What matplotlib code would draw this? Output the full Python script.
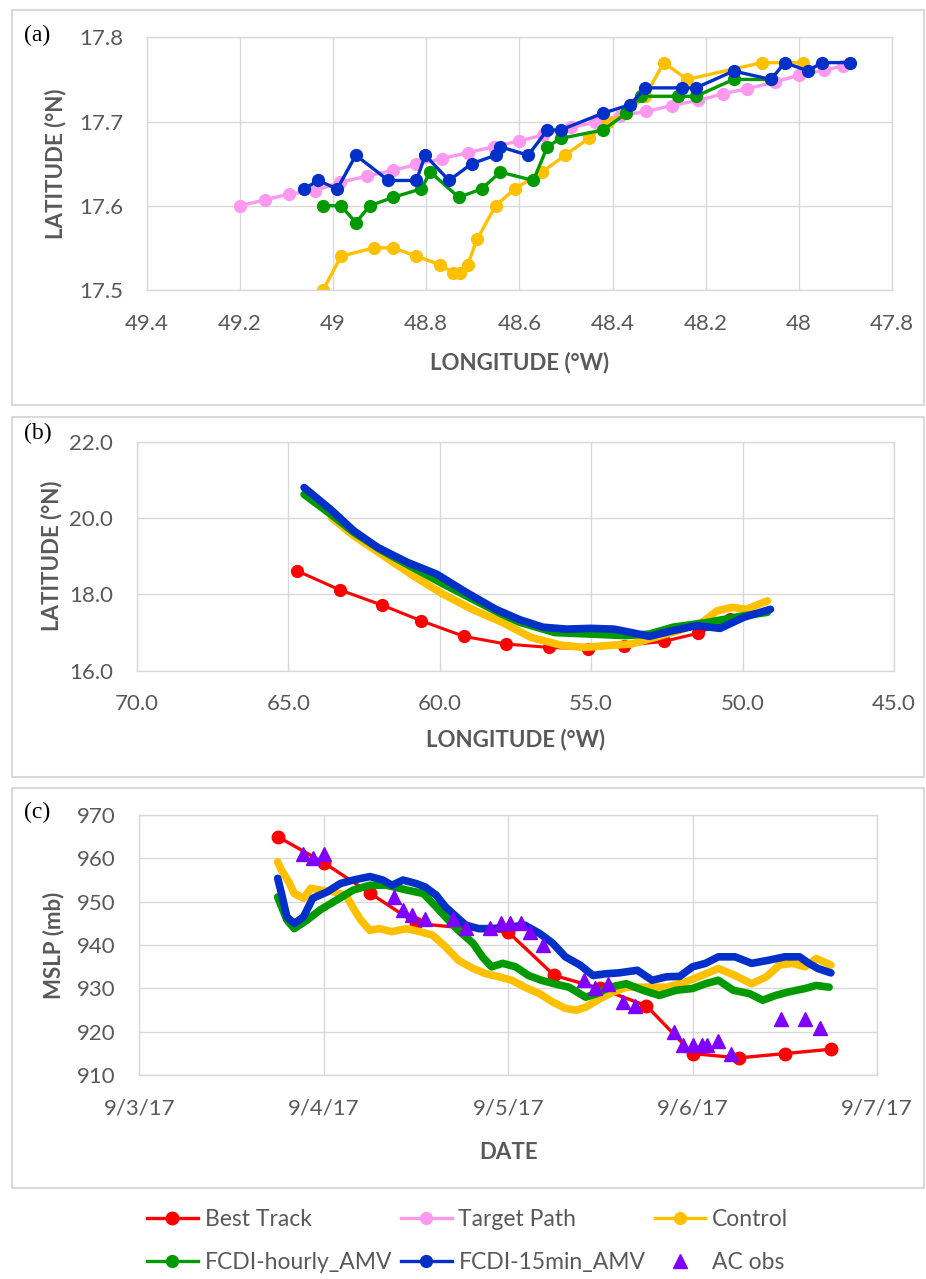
import matplotlib
matplotlib.use("Agg")
import matplotlib.pyplot as plt
from matplotlib.patches import Rectangle

plt.rcParams["font.family"] = ["Lato", "DejaVu Sans"]

# ---- panel (a): zoomed track, longitude (W) / latitude (N)
tp_lon = [49.200, 49.146, 49.094, 49.038, 48.984, 48.928, 48.872, 48.821, 48.766, 48.711, 48.655, 48.600, 48.549,
          48.489, 48.438, 48.383, 48.328, 48.272, 48.217, 48.162, 48.111, 48.051, 48.000, 47.945, 47.906]
tp_lat = [17.600, 17.607, 17.614, 17.618, 17.628, 17.635, 17.642, 17.649, 17.656, 17.663, 17.670, 17.677, 17.684,
          17.693, 17.699, 17.707, 17.712, 17.719, 17.725, 17.733, 17.739, 17.747, 17.755, 17.761, 17.766]

ctl_lon = [49.021, 48.983, 48.912, 48.871, 48.821, 48.770, 48.742, 48.728, 48.711, 48.691, 48.651, 48.610, 48.551,
           48.502, 48.451, 48.410, 48.370, 48.330, 48.290, 48.240, 48.079, 47.992]
ctl_lat = [17.50, 17.54, 17.55, 17.55, 17.54, 17.53, 17.52, 17.52, 17.53, 17.56, 17.60, 17.62, 17.64,
           17.66, 17.68, 17.70, 17.71, 17.73, 17.77, 17.75, 17.77, 17.77]

fh_lon = [49.021, 48.983, 48.951, 48.921, 48.871, 48.811, 48.791, 48.730, 48.681, 48.641, 48.570, 48.540, 48.511,
          48.420, 48.370, 48.339, 48.260, 48.221, 48.140, 48.060]
fh_lat = [17.60, 17.60, 17.58, 17.60, 17.61, 17.62, 17.64, 17.61, 17.62, 17.64, 17.63, 17.67, 17.68,
          17.69, 17.71, 17.73, 17.73, 17.73, 17.75, 17.75]

fb_lon = [49.062, 49.032, 48.991, 48.951, 48.881, 48.821, 48.802, 48.751, 48.702, 48.651, 48.641, 48.581, 48.540,
          48.511, 48.420, 48.362, 48.330, 48.251, 48.221, 48.140, 48.060, 48.030, 47.980, 47.951, 47.891]
fb_lat = [17.62, 17.63, 17.62, 17.66, 17.63, 17.63, 17.66, 17.63, 17.65, 17.66, 17.67, 17.66, 17.69,
          17.69, 17.71, 17.72, 17.74, 17.74, 17.74, 17.76, 17.75, 17.77, 17.76, 17.77, 17.77]

a_xticks = [49.4, 49.2, 49.0, 48.8, 48.6, 48.4, 48.2, 48.0, 47.8]
a_xlabels = ["49.4", "49.2", "49", "48.8", "48.6", "48.4", "48.2", "48", "47.8"]
a_yticks = [17.5, 17.6, 17.7, 17.8]

# ---- panel (b): full track
bt_lon_b = [64.72, 63.31, 61.91, 60.62, 59.20, 57.82, 56.39, 55.09, 53.92, 52.59, 51.48, 50.41]
bt_lat_b = [18.62, 18.12, 17.72, 17.31, 16.90, 16.70, 16.61, 16.57, 16.66, 16.77, 16.98, 17.35]

ctl_lon_b = [63.57, 62.83, 61.85, 60.88, 59.90, 58.93, 57.95, 56.98, 56.00, 55.22, 54.44, 53.67, 53.08, 52.11,
             51.33, 50.84, 50.35, 49.87, 49.18]
ctl_lat_b = [20.01, 19.53, 19.01, 18.49, 18.01, 17.61, 17.27, 16.87, 16.67, 16.61, 16.66, 16.70, 16.83, 17.05,
             17.27, 17.57, 17.66, 17.61, 17.83]

fh_lon_b = [64.48, 63.60, 62.83, 61.85, 60.88, 59.90, 58.93, 58.00, 57.37, 56.20, 55.03, 53.86, 53.08, 52.30,
            51.13, 49.96, 49.18]
fh_lat_b = [20.62, 20.10, 19.62, 19.12, 18.70, 18.28, 17.88, 17.50, 17.27, 17.00, 16.96, 16.92, 16.96, 17.14,
            17.27, 17.44, 17.53]

fb_lon_b = [64.48, 63.61, 62.83, 62.05, 61.07, 60.10, 59.12, 58.15, 57.37, 56.59, 55.81, 55.03, 54.25, 53.67,
            53.08, 52.30, 51.52, 50.74, 49.96, 49.08]
fb_lat_b = [20.80, 20.23, 19.66, 19.23, 18.84, 18.53, 18.05, 17.61, 17.34, 17.14, 17.09, 17.11, 17.09, 17.00,
            16.90, 17.05, 17.18, 17.11, 17.40, 17.61]

b_xticks = [70, 65, 60, 55, 50, 45]
b_yticks = [16, 18, 20, 22]

# ---- panel (c): MSLP, time in days since 9/3/17 00Z
bt_t = [0.75, 1.0, 1.25, 1.5, 1.75, 2.0, 2.25, 2.5, 2.75, 3.0, 3.25, 3.5, 3.75]
bt_p = [965, 959, 952, 945, 944, 943, 933, 930, 926, 915, 914, 915, 916]

ac_t = [0.89, 0.94, 1.00, 1.38, 1.43, 1.48, 1.55, 1.70, 1.77, 1.90, 1.96, 2.01, 2.07, 2.12, 2.19,
        2.41, 2.47, 2.54, 2.62, 2.69, 2.90, 2.95, 3.00, 3.05, 3.08, 3.14, 3.21, 3.48, 3.61, 3.69]
ac_p = [961, 960, 961, 951, 948, 947, 946, 946, 944, 944, 945, 945, 945, 943, 940,
        932, 930, 931, 927, 926, 920, 917, 917, 917, 917, 918, 915, 923, 923, 921]

ctl_t = [0.75, 0.77, 0.81, 0.84, 0.89, 0.93, 0.98, 1.05, 1.12, 1.16, 1.20, 1.25, 1.30, 1.37, 1.45, 1.52, 1.59,
         1.66, 1.73, 1.81, 1.88, 1.95, 2.02, 2.09, 2.17, 2.24, 2.31, 2.37, 2.42, 2.50, 2.57, 2.64, 2.75, 2.86,
         2.96, 3.05, 3.14, 3.23, 3.32, 3.40, 3.47, 3.54, 3.61, 3.67, 3.75]
ctl_p = [959.2, 957.3, 954.6, 951.9, 950.8, 953.1, 952.7, 952.3, 951.5, 948.5, 945.8, 943.4, 943.8, 943.1, 943.8,
         943.1, 942.3, 939.6, 936.5, 934.6, 933.4, 932.7, 931.9, 930.3, 928.8, 926.9, 925.4, 925.0, 925.7, 927.7,
         929.2, 930.3, 930.3, 930.3, 931.5, 933.0, 934.6, 933.0, 931.1, 932.7, 935.4, 935.8, 935.0, 936.9, 935.4]

fh_t = [0.75, 0.80, 0.84, 0.91, 0.98, 1.07, 1.16, 1.25, 1.34, 1.45, 1.54, 1.61, 1.66, 1.73, 1.81, 1.86, 1.91,
        1.97, 2.04, 2.11, 2.18, 2.25, 2.33, 2.42, 2.48, 2.55, 2.64, 2.73, 2.82, 2.91, 3.00, 3.07, 3.14, 3.22,
        3.31, 3.38, 3.45, 3.52, 3.61, 3.67, 3.74]
fh_p = [951.1, 945.8, 943.8, 945.8, 948.1, 950.4, 952.7, 953.8, 953.8, 952.7, 951.9, 948.8, 946.5, 943.4, 940.4,
        937.3, 935.0, 935.8, 935.0, 933.0, 931.9, 931.1, 930.3, 928.0, 928.8, 930.3, 931.1, 929.6, 928.4, 929.6,
        930.0, 931.1, 931.9, 929.6, 928.8, 927.3, 928.4, 929.2, 930.0, 930.7, 930.3]

fb_t = [0.75, 0.77, 0.80, 0.84, 0.89, 0.94, 1.02, 1.09, 1.16, 1.25, 1.32, 1.37, 1.43, 1.50, 1.55, 1.61, 1.66,
        1.72, 1.77, 1.84, 1.91, 2.02, 2.09, 2.17, 2.24, 2.31, 2.39, 2.46, 2.53, 2.60, 2.70, 2.78, 2.86, 2.93,
        3.00, 3.07, 3.14, 3.23, 3.32, 3.41, 3.50, 3.58, 3.63, 3.68, 3.75]
fb_p = [955.4, 952.0, 946.5, 945.0, 946.5, 950.8, 952.3, 954.2, 955.0, 955.8, 955.0, 953.8, 955.0, 954.2, 953.4,
        951.5, 948.8, 946.5, 944.6, 943.8, 943.8, 944.2, 944.6, 942.7, 940.5, 937.3, 935.4, 933.0, 933.4, 933.6,
        934.2, 931.9, 932.7, 932.8, 935.0, 935.8, 937.3, 937.3, 935.8, 936.5, 937.3, 937.3, 935.8, 934.6, 933.6]

c_xticks = [0, 1, 2, 3, 4]
c_xlabels = ["9/3/17", "9/4/17", "9/5/17", "9/6/17", "9/7/17"]
c_yticks = [910, 920, 930, 940, 950, 960, 970]

RED = "#FF0000"
PINK = "#FF99F0"
GOLD = "#FFC000"
GREEN = "#009A00"
BLUE = "#0030C8"
PURPLE = "#7F00FF"
GRAY = "#595959"
GRID = "#D9D9D9"

fig = plt.figure(figsize=(9.26, 12.79), dpi=100)

# panel frames
for y0, h in [(0.6833, 0.3088), (0.3925, 0.2815), (0.0712, 0.3127)]:
    fig.add_artist(Rectangle((0.0126, y0), 0.985, h, transform=fig.transFigure,
                             fill=False, ec=GRID, lw=1.5))


def style(ax):
    ax.grid(True, color=GRID, lw=1)
    ax.set_axisbelow(True)
    for s in ax.spines.values():
        s.set_color(GRID)
        s.set_linewidth(1)
    ax.tick_params(length=0, pad=17, labelsize=16, labelcolor=GRAY)


lab = dict(fontsize=16, fontweight="bold", color=GRAY)

# (a)
ax1 = fig.add_axes([0.1584, 0.7733, 0.8049, 0.1975])
ax1.plot(tp_lon, tp_lat, "-o", color=PINK, lw=2.4, ms=8.5, label="Target Path")
ax1.plot(ctl_lon, ctl_lat, "-o", color=GOLD, lw=2.4, ms=8.5, label="Control")
ax1.plot(fh_lon, fh_lat, "-o", color=GREEN, lw=2.4, ms=8.5, label="FCDI-hourly_AMV")
ax1.plot(fb_lon, fb_lat, "-o", color=BLUE, lw=2.4, ms=8.5, label="FCDI-15min_AMV")
ax1.set_xlim(49.4, 47.8)
ax1.set_ylim(17.5, 17.8)
ax1.set_xticks(a_xticks)
ax1.set_xticklabels(a_xlabels)
ax1.set_yticks(a_yticks)
ax1.set_yticklabels([f"{v:.1f}" for v in a_yticks])
style(ax1)
ax1.set_xlabel("LONGITUDE (°W)", **lab)
ax1.set_ylabel("LATITUDE (°N)", **lab)
ax1.xaxis.set_label_coords(0.5, -0.245)
ax1.yaxis.set_label_coords(-0.108, 0.5)

# (b)
ax2 = fig.add_axes([0.1479, 0.4756, 0.8175, 0.1790])
ax2.plot(bt_lon_b, bt_lat_b, "-o", color=RED, lw=2.2, ms=8.5)
ax2.plot(ctl_lon_b, ctl_lat_b, "-", color=GOLD, lw=5.5, solid_capstyle="round")
ax2.plot(fh_lon_b, fh_lat_b, "-", color=GREEN, lw=5.5, solid_capstyle="round")
ax2.plot(fb_lon_b, fb_lat_b, "-", color=BLUE, lw=5.5, solid_capstyle="round")
ax2.set_xlim(70, 45)
ax2.set_ylim(16, 22)
ax2.set_xticks(b_xticks)
ax2.set_xticklabels([f"{v:.1f}" for v in b_xticks])
ax2.set_yticks(b_yticks)
ax2.set_yticklabels([f"{v:.1f}" for v in b_yticks])
style(ax2)
ax2.set_xlabel("LONGITUDE (°W)", **lab)
ax2.set_ylabel("LATITUDE (°N)", **lab)
ax2.xaxis.set_label_coords(0.5, -0.255)
ax2.yaxis.set_label_coords(-0.098, 0.5)

# (c)
ax3 = fig.add_axes([0.1505, 0.1593, 0.7966, 0.2035])
bt_line, = ax3.plot(bt_t, bt_p, "-o", color=RED, lw=2.4, ms=9, label="Best Track")
ax3.plot(ctl_t, ctl_p, "-", color=GOLD, lw=5.5, solid_capstyle="round")
ax3.plot(fh_t, fh_p, "-", color=GREEN, lw=5.5, solid_capstyle="round")
ax3.plot(fb_t, fb_p, "-", color=BLUE, lw=5.5, solid_capstyle="round")
ac_pts, = ax3.plot(ac_t, ac_p, "^", color=PURPLE, ms=10, ls="none", label="AC obs")
ax3.set_xlim(0, 4)
ax3.set_ylim(910, 970)
ax3.set_xticks(c_xticks)
ax3.set_xticklabels(c_xlabels)
ax3.set_yticks(c_yticks)
style(ax3)
ax3.set_xlabel("DATE", **lab)
ax3.set_ylabel("MSLP (mb)", **lab)
ax3.xaxis.set_label_coords(0.5, -0.256)
ax3.yaxis.set_label_coords(-0.102, 0.5)

for txt, y in [("(a)", 0.9719), ("(b)", 0.6614), ("(c)", 0.3644)]:
    fig.text(0.026, y, txt, family="Liberation Serif", fontsize=17, va="center")

h = {l.get_label(): l for l in ax1.get_lines()}
handles = [bt_line, h["FCDI-hourly_AMV"], h["Target Path"], h["FCDI-15min_AMV"], h["Control"], ac_pts]
labels = [x.get_label() for x in handles]
leg = fig.legend(handles, labels, loc="center", bbox_to_anchor=(0.505, 0.0297), ncol=3,
                 frameon=False, fontsize=16.5, handlelength=2.2, handletextpad=0.3,
                 columnspacing=0.4, labelspacing=1.0, numpoints=1)
for t in leg.get_texts():
    t.set_color(GRAY)

fig.savefig("out.png", dpi=100)
